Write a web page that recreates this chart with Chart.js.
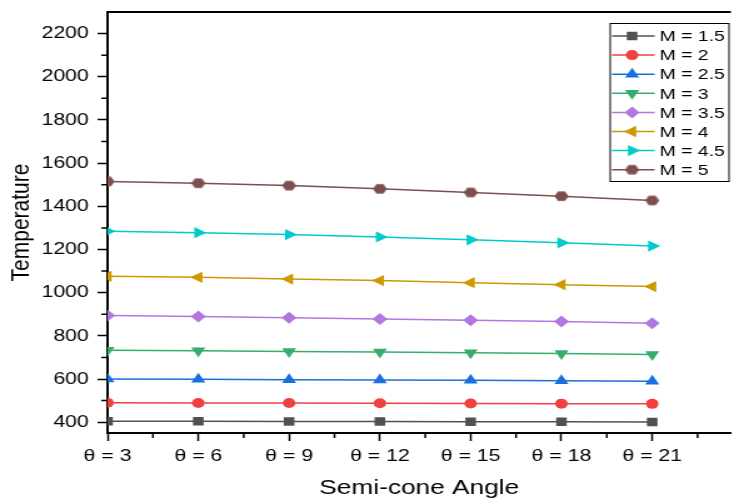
<!DOCTYPE html>
<html>
<head>
<meta charset="utf-8">
<script src="https://cdn.jsdelivr.net/npm/chart.js@4.4.1/dist/chart.umd.min.js"></script>
<style>
  html, body { margin: 0; padding: 0; background: #fff; }
  body { width: 733px; height: 499px; overflow: hidden; }
  #chart { display: block; }
</style>
</head>
<body>
<!-- drawn narrow and widened by CSS, so text and markers come out wide;
     the few pixels chart.js leaves on the right fall outside the page -->
<canvas id="chart" width="591" height="499" style="width:739px;height:499px"></canvas>
<script>
const thetaValues = [3, 6, 9, 12, 15, 18, 21];
const machLabels = ['M = 1.5', 'M = 2', 'M = 2.5', 'M = 3', 'M = 3.5', 'M = 4', 'M = 4.5', 'M = 5'];

const tempM15 = [404, 404, 403, 403, 402, 402, 401];
const tempM2 = [490, 489, 489, 488, 487, 486, 485];
const tempM25 = [600, 599, 597, 596, 594, 592, 590];
const tempM3 = [733, 731, 728, 725, 722, 718, 714];
const tempM35 = [894, 890, 884, 878, 872, 866, 858];
const tempM4 = [1076, 1071, 1063, 1056, 1046, 1037, 1028];
const tempM45 = [1284, 1278, 1269, 1258, 1245, 1231, 1216];
const tempM5 = [1515, 1507, 1496, 1481, 1464, 1447, 1427];

const FONT = "'Liberation Sans', Arial, sans-serif";

// Chart.js has no hexagon point style, so build one as an image
const makeHexagon = (color, r) => {
    const c = document.createElement('canvas');
    const size = Math.ceil(r * 2 + 2);
    c.width = size;
    c.height = size;
    const g = c.getContext('2d');
    g.fillStyle = color;
    g.beginPath();
    for (let i = 0; i < 6; i++) {
        const a = i * Math.PI / 3;
        const px = size / 2 + r * Math.cos(a);
        const py = size / 2 + r * Math.sin(a);
        if (i === 0) g.moveTo(px, py); else g.lineTo(px, py);
    }
    g.closePath();
    g.fill();
    return c;
};

const seriesList = [
    { data: tempM15, color: '#515151', style: 'rect', radius: 6, rotation: 0 },
    { data: tempM2, color: '#F14040', style: 'circle', radius: 5, rotation: 0 },
    { data: tempM25, color: '#1A6FDF', style: 'triangle', radius: 6.5, rotation: 0 },
    { data: tempM3, color: '#37AD6B', style: 'triangle', radius: 6.5, rotation: 180 },
    { data: tempM35, color: '#B177DE', style: 'rectRot', radius: 6, rotation: 0 },
    { data: tempM4, color: '#CC9900', style: 'triangle', radius: 6.5, rotation: 270 },
    { data: tempM45, color: '#00CBCC', style: 'triangle', radius: 6.5, rotation: 90 },
    { data: tempM5, color: '#7D4E4E', style: makeHexagon('#7D4E4E', 5.6), radius: 6, rotation: 0 }
];

const datasets = seriesList.map((s, i) => ({
    label: machLabels[i],
    data: s.data.map((t, j) => ({ x: thetaValues[j], y: t })),
    borderColor: s.color,
    backgroundColor: s.color,
    borderWidth: 1.5,
    pointStyle: s.style,
    pointRadius: s.radius,
    pointRotation: s.rotation,
    pointBorderWidth: 0,
    tension: 0,
    clip: 0
}));

// minor ticks and the top frame line
const minorTicks = {
    id: 'minorTicks',
    afterDraw(chart) {
        const { ctx, chartArea, scales: { x, y } } = chart;
        ctx.save();
        ctx.strokeStyle = '#000';
        ctx.lineWidth = 1.5;
        ctx.beginPath();
        for (let v = 4.5; v < x.max; v += 3) {
            const px = x.getPixelForValue(v);
            ctx.moveTo(px, chartArea.bottom);
            ctx.lineTo(px, chartArea.bottom + 5);
        }
        for (let v = 500; v < y.max; v += 200) {
            const py = y.getPixelForValue(v);
            ctx.moveTo(chartArea.left, py);
            ctx.lineTo(chartArea.left - 5, py);
        }
        ctx.stroke();
        ctx.lineWidth = 2;
        ctx.beginPath();
        ctx.moveTo(chartArea.left - 1, chartArea.top);
        ctx.lineTo(chartArea.right, chartArea.top);
        ctx.stroke();
        ctx.restore();
    }
};

// boxed legend with a line through each marker
const legendBox = {
    id: 'legendBox',
    afterDraw(chart) {
        const { ctx, chartArea } = chart;
        const left = chartArea.right - 97;
        const top = chartArea.top + 11;
        const rowH = 19.1;
        ctx.save();
        ctx.fillStyle = '#fff';
        ctx.fillRect(left, top, 96, 159);
        ctx.strokeStyle = '#000';
        ctx.lineWidth = 1;
        ctx.strokeRect(left + 0.5, top + 0.5, 95, 158);
        ctx.font = '15.5px ' + FONT;
        ctx.textBaseline = 'middle';
        ctx.textAlign = 'left';
        chart.data.datasets.forEach((ds, i) => {
            const cy = top + 13 + i * rowH;
            ctx.strokeStyle = ds.borderColor;
            ctx.lineWidth = 1.5;
            ctx.beginPath();
            ctx.moveTo(left + 2, cy);
            ctx.lineTo(left + 36, cy);
            ctx.stroke();
            ctx.fillStyle = ds.backgroundColor;
            Chart.helpers.drawPoint(ctx, {
                pointStyle: ds.pointStyle,
                radius: ds.pointRadius,
                rotation: ds.pointRotation,
                borderWidth: 0
            }, left + 18, cy);
            ctx.fillStyle = '#000';
            ctx.fillText(ds.label, left + 40, cy + 1);
        });
        ctx.restore();
    }
};

new Chart(document.getElementById('chart'), {
    type: 'line',
    data: { datasets },
    options: {
        responsive: false,
        animation: false,
        devicePixelRatio: 1,
        layout: { padding: { top: 12, right: 0, left: 0, bottom: 0 } },
        plugins: {
            legend: { display: false },
            tooltip: { enabled: false }
        },
        scales: {
            x: {
                type: 'linear',
                min: 3,
                max: 23.6,
                afterFit: (scale) => {
                    scale.height = 66;
                    scale.paddingLeft = 0;
                    scale.paddingRight = 0;
                },
                border: { display: true, color: '#000', width: 2 },
                grid: { drawOnChartArea: false, drawTicks: true, tickLength: 8, tickColor: '#000', tickWidth: 1.5 },
                ticks: {
                    stepSize: 3,
                    includeBounds: false,
                    padding: 5,
                    maxRotation: 0,
                    color: '#000',
                    font: { family: FONT, size: 17 },
                    callback: (v) => 'θ = ' + v
                },
                title: {
                    display: true,
                    text: 'Semi-cone Angle',
                    color: '#000',
                    font: { family: FONT, size: 21, lineHeight: 1.05 },
                    padding: 0
                }
            },
            y: {
                min: 350,
                max: 2300,
                afterFit: (scale) => {
                    scale.width = 86;
                    scale.paddingTop = 0;
                    scale.paddingBottom = 0;
                },
                border: { display: true, color: '#000', width: 2 },
                grid: { drawOnChartArea: false, drawTicks: true, tickLength: 8, tickColor: '#000', tickWidth: 1.5 },
                ticks: {
                    stepSize: 200,
                    includeBounds: false,
                    padding: 7,
                    color: '#000',
                    font: { family: FONT, size: 17 },
                    callback: (v) => String(v)
                },
                title: {
                    display: true,
                    text: 'Temperature',
                    color: '#000',
                    font: { family: FONT, size: 21, lineHeight: 1.2 },
                    padding: { top: 5, bottom: 0 }
                }
            }
        }
    },
    plugins: [minorTicks, legendBox]
});
</script>
</body>
</html>
